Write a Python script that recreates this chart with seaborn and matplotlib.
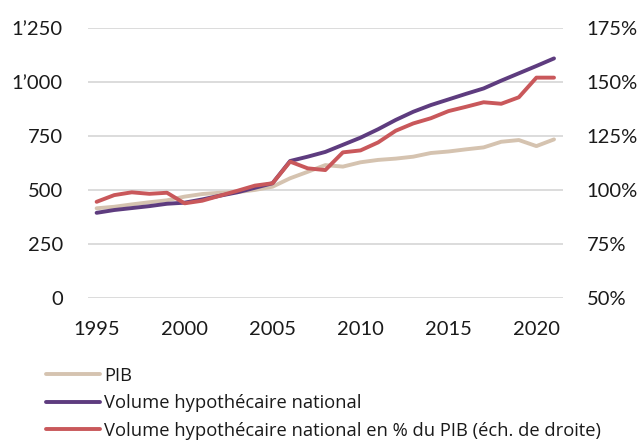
import seaborn as sns
import pandas as pd
import matplotlib.pyplot as plt
from matplotlib.ticker import FuncFormatter, MultipleLocator

sns.set_theme(style = "white")
plt.rcParams["font.family"] = ["Lato", "DejaVu Sans"]

# Values
years = list(range(1995, 2022))
pib = [414, 421, 432, 442, 451, 468, 480, 486, 489, 499, 514, 553, 583, 614,
       607, 627, 638, 644, 653, 670, 677, 687, 696, 722, 730, 702, 733]
volume = [393, 406, 415, 424, 435, 440, 455, 472, 488, 509, 530, 633, 653, 675,
          708, 741, 780, 823, 861, 892, 918, 944, 969, 1005, 1039, 1073, 1108]
ratio = [94.4, 97.5, 98.8, 98.1, 98.6, 93.7, 94.9, 97.2, 99.5, 101.9, 103.0,
         113.0, 109.9, 109.1, 117.3, 118.2, 121.9, 127.3, 130.7, 133.1, 136.4,
         138.4, 140.5, 139.8, 142.8, 151.9, 151.9]

labels = ["PIB", "Volume hypothécaire national",
          "Volume hypothécaire national en % du PIB (éch. de droite)"]
colors = ["#D5C3B0", "#5E3C7F", "#C9585B"]

df = pd.DataFrame({"année": years, labels[0]: pib, labels[1]: volume, labels[2]: ratio})

fig = plt.figure(figsize = (6.41, 4.44), dpi = 100)
ax = fig.add_axes([0.137, 0.3295, 0.741, 0.608])
ax2 = ax.twinx()

lw = 2.8
sns.lineplot(data = df, x = "année", y = labels[0], color = colors[0], lw = lw, ax = ax, label = labels[0], legend = False)
sns.lineplot(data = df, x = "année", y = labels[1], color = colors[1], lw = lw, ax = ax, label = labels[1], legend = False)
sns.lineplot(data = df, x = "année", y = labels[2], color = colors[2], lw = lw, ax = ax2, label = labels[2], legend = False)

# Axes, Ticks And Grid
ax.set_xlim(1994.5, 2021.5)
ax.set_ylim(0, 1250)
ax2.set_ylim(50, 175)
ax.yaxis.set_major_locator(MultipleLocator(250))
ax2.yaxis.set_major_locator(MultipleLocator(25))
ax.xaxis.set_major_locator(MultipleLocator(5))
ax.yaxis.set_major_formatter(FuncFormatter(lambda v, p: f"{int(v):,}".replace(",", "\u2019")))
ax2.yaxis.set_major_formatter(FuncFormatter(lambda v, p: f"{int(v)}%"))

ax.grid(axis = "y", color = "#D9D9D9", lw = 1.3)
ax.set_axisbelow(True)
for a in (ax, ax2):
    a.set_xlabel("")
    a.set_ylabel("")
    for s in a.spines.values():
        s.set_visible(False)
ax.tick_params(axis = "both", length = 0, labelsize = 14.5, colors = "#1a1a1a")
ax.tick_params(axis = "y", pad = 18)
ax.tick_params(axis = "x", pad = 17)
ax2.tick_params(axis = "y", length = 0, labelsize = 14.5, colors = "#1a1a1a", pad = 17)

# Legend Below The Chart
handles = ax.get_lines()[:2] + ax2.get_lines()[:1]
leg = fig.legend(handles, labels, loc = "upper left", bbox_to_anchor = (0.0718, 0.1745),
                 frameon = False, handlelength = 2.95, handletextpad = 0.22,
                 labelspacing = 0.52, borderpad = 0, borderaxespad = 0,
                 prop = {"family": ["Open Sans", "DejaVu Sans"], "size": 13.2})
for t in leg.get_texts():
    t.set_color("#1a1a1a")

fig.savefig("out.png", dpi = 100)
